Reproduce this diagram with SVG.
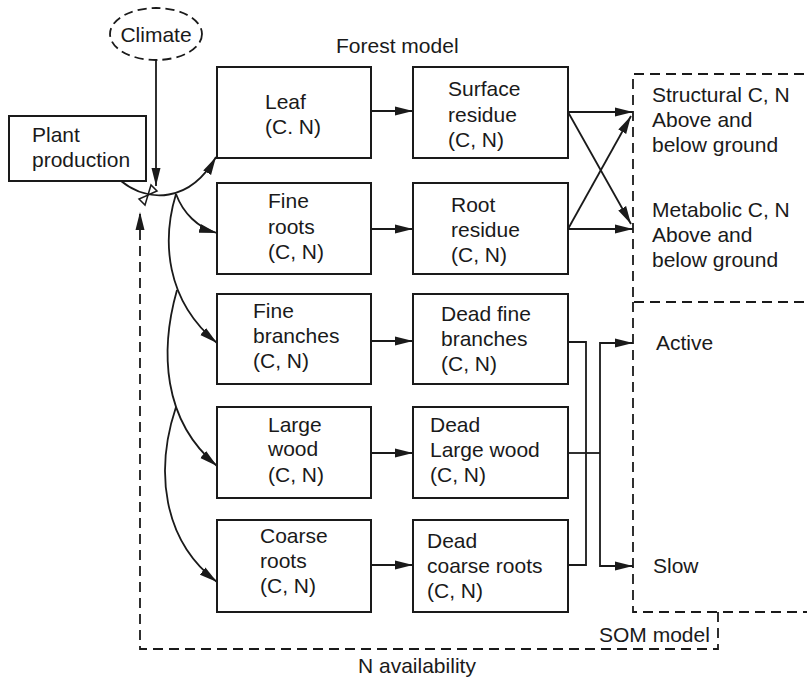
<svg xmlns="http://www.w3.org/2000/svg" width="807" height="682" viewBox="0 0 807 682">
<style>
text{font-family:"Liberation Sans",Arial,sans-serif;font-size:21px;fill:#1a1a1a}
.box{fill:#fff;stroke:#1a1a1a;stroke-width:2}
.ln{fill:none;stroke:#1a1a1a;stroke-width:1.8}
.dash{fill:none;stroke:#1a1a1a;stroke-width:1.8;stroke-dasharray:10 6}
</style>
<defs>
<marker id="ah" markerUnits="userSpaceOnUse" markerWidth="19" markerHeight="10" refX="18" refY="5" orient="auto" viewBox="0 0 19 10">
<path d="M0,0.5 L18,5 L0,9.5 z" fill="#1a1a1a"/>
</marker>
</defs>
<rect width="807" height="682" fill="#fff"/>

<g id="climate">
<ellipse cx="156" cy="34" rx="46" ry="26" fill="#fff" stroke="#1a1a1a" stroke-width="1.8" stroke-dasharray="9 5"/>
<text x="156" y="42" text-anchor="middle">Climate</text>
</g>
<g id="forest-label"><text x="336" y="53">Forest model</text></g>

<g id="plant-production">
<rect class="box" x="9" y="116" width="137" height="65"/>
<text x="32" y="142">Plant</text>
<text x="32" y="167">production</text>
</g>

<g id="leaf">
<rect class="box" x="217" y="67" width="154" height="91"/>
<text x="265" y="109">Leaf</text>
<text x="265" y="134">(C. N)</text>
</g>
<g id="surface-residue">
<rect class="box" x="413" y="67" width="155" height="91"/>
<text x="448" y="96">Surface</text>
<text x="448" y="122">residue</text>
<text x="448" y="147">(C, N)</text>
</g>
<g id="fine-roots">
<rect class="box" x="217" y="183" width="154" height="91"/>
<text x="268" y="208">Fine</text>
<text x="268" y="234">roots</text>
<text x="268" y="259">(C, N)</text>
</g>
<g id="root-residue">
<rect class="box" x="413" y="183" width="155" height="91"/>
<text x="451" y="212">Root</text>
<text x="451" y="237">residue</text>
<text x="451" y="262">(C, N)</text>
</g>
<g id="fine-branches">
<rect class="box" x="217" y="294" width="154" height="90"/>
<text x="253" y="318">Fine</text>
<text x="253" y="343">branches</text>
<text x="253" y="368">(C, N)</text>
</g>
<g id="dead-fine-branches">
<rect class="box" x="413" y="294" width="155" height="90"/>
<text x="441" y="321">Dead fine</text>
<text x="441" y="346">branches</text>
<text x="441" y="371">(C, N)</text>
</g>
<g id="large-wood">
<rect class="box" x="217" y="407" width="154" height="91"/>
<text x="268" y="432">Large</text>
<text x="268" y="456">wood</text>
<text x="268" y="482">(C, N)</text>
</g>
<g id="dead-large-wood">
<rect class="box" x="413" y="407" width="155" height="91"/>
<text x="430" y="432">Dead</text>
<text x="430" y="457">Large wood</text>
<text x="430" y="482">(C, N)</text>
</g>
<g id="coarse-roots">
<rect class="box" x="217" y="520" width="154" height="92"/>
<text x="260" y="543">Coarse</text>
<text x="260" y="568">roots</text>
<text x="260" y="593">(C, N)</text>
</g>
<g id="dead-coarse-roots">
<rect class="box" x="413" y="520" width="155" height="92"/>
<text x="427" y="548">Dead</text>
<text x="427" y="573">coarse roots</text>
<text x="427" y="598">(C, N)</text>
</g>

<g id="litter-pools">
<path class="dash" d="M820,74 H633 V302 H820"/>
<text x="652" y="102">Structural C, N</text>
<text x="652" y="127">Above and</text>
<text x="652" y="152">below ground</text>
<text x="652" y="217">Metabolic C, N</text>
<text x="652" y="242">Above and</text>
<text x="652" y="267">below ground</text>
</g>
<g id="som-model">
<path class="dash" d="M633,302 V612 H820"/>
<text x="656" y="350">Active</text>
<text x="653" y="573">Slow</text>
<text x="599" y="642">SOM model</text>
</g>
<g id="n-availability-label"><text x="358" y="673">N availability</text></g>

<g id="connectors">
<path class="ln" d="M156,61 V186" marker-end="url(#ah)"/>
<path class="ln" d="M121,181 C148,203 190,203 216,157" marker-end="url(#ah)"/>
<g id="valve" fill="#fff" stroke="#1a1a1a" stroke-width="1.5">
<path d="M148,195 L157,191 L151,185 z"/>
<path d="M148,195 L145,205 L139,199 z"/>
</g>
<path class="ln" d="M176,194 C183,213 198,228 217,233" marker-end="url(#ah)"/>
<path class="ln" d="M176,194 C162,240 165,300 217,343" marker-end="url(#ah)"/>
<path class="ln" d="M177,290 C160,350 162,420 217,466" marker-end="url(#ah)"/>
<path class="ln" d="M176,407 C155,470 162,540 217,582" marker-end="url(#ah)"/>
<path class="ln" d="M371,111 H413" marker-end="url(#ah)"/>
<path class="ln" d="M371,229 H413" marker-end="url(#ah)"/>
<path class="ln" d="M371,341 H413" marker-end="url(#ah)"/>
<path class="ln" d="M371,453 H413" marker-end="url(#ah)"/>
<path class="ln" d="M371,565 H413" marker-end="url(#ah)"/>
<path class="ln" d="M568,112 H633" marker-end="url(#ah)"/>
<path class="ln" d="M568,112 L631,224" marker-end="url(#ah)"/>
<path class="ln" d="M568,229 H633" marker-end="url(#ah)"/>
<path class="ln" d="M568,229 L631,116" marker-end="url(#ah)"/>
<path class="ln" d="M568,342 H586 V565 H568"/>
<path class="ln" d="M568,453 H600"/>
<path class="ln" d="M633,343 H600 V566 H633"/>
<path class="ln" d="M601,343 H633" marker-end="url(#ah)"/>
<path class="ln" d="M601,566 H633" marker-end="url(#ah)"/>
<path class="dash" d="M718,612 V649 H140 V212" marker-end="url(#ah)"/>
</g>
</svg>
